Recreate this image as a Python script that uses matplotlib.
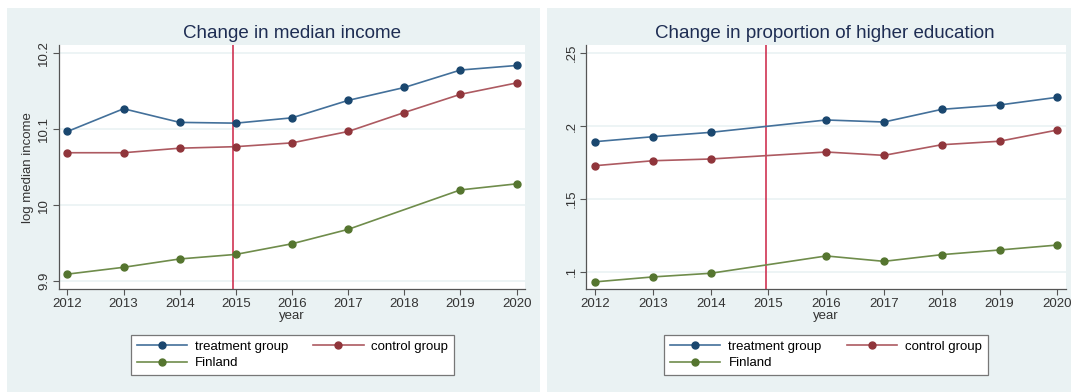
import numpy as np
import matplotlib
matplotlib.use("Agg")
import matplotlib.pyplot as plt
from matplotlib.patches import Rectangle

plt.rcParams['font.family'] = ['Liberation Sans', 'DejaVu Sans']

# data
years = np.arange(2012, 2021)
series_names = ['treatment group', 'control group', 'Finland']

income_treatment = [10.097, 10.127, 10.109, 10.108, 10.115, 10.138, 10.155, 10.178, 10.184]
income_control = [10.069, 10.069, 10.075, 10.077, 10.082, 10.097, 10.122, 10.146, 10.161]
income_finland = [9.909, 9.918, 9.929, 9.935, 9.949, 9.968, np.nan, 10.020, 10.028]

edu_treatment = [0.1893, 0.1927, 0.1957, np.nan, 0.2042, 0.2028, 0.2115, 0.2145, 0.2198]
edu_control = [0.1728, 0.1762, 0.1774, np.nan, 0.1822, 0.1799, 0.1872, 0.1896, 0.1973]
edu_finland = [0.0930, 0.0964, 0.0989, np.nan, 0.1108, 0.1071, 0.1117, 0.1149, 0.1183]

income_ticks = [9.9, 10.0, 10.1, 10.2]
income_ticklabels = ['9.9', '10', '10.1', '10.2']
edu_ticks = [0.10, 0.15, 0.20, 0.25]
edu_ticklabels = ['.1', '.15', '.2', '.25']

event_year = 2014.95

marker_colors = ['#1a476f', '#90353b', '#55752f']
line_colors = ['#43709a', '#ad5a61', '#6f8c4b']
bg = '#eaf2f3'
title_color = '#1e2d53'

fig = plt.figure(figsize=(10.71, 3.92), dpi=100)
fig.patch.set_facecolor('white')

# grey-blue graph regions behind each panel
fig.add_artist(Rectangle((7 / 1071, 0), 533 / 1071, 384 / 392, transform=fig.transFigure,
                         facecolor=bg, edgecolor='none', zorder=-10))
fig.add_artist(Rectangle((547 / 1071, 0), 524 / 1071, 384 / 392, transform=fig.transFigure,
                         facecolor=bg, edgecolor='none', zorder=-10))

ax1 = fig.add_axes([59 / 1071, 1 - 289.3 / 392, 466 / 1071, 244.3 / 392])
ax2 = fig.add_axes([586.4 / 1071, 1 - 289.3 / 392, 479.6 / 1071, 244.3 / 392])


def draw_panel(ax, data, ticks, ticklabels, ylim):
    ax.set_facecolor('white')
    for vals, name, lc, mc in zip(data, series_names, line_colors, marker_colors):
        v = np.array(vals, dtype=float)
        ok = ~np.isnan(v)
        ax.plot(years[ok], v[ok], color=lc, lw=1.2, marker='o', ms=5,
                mec=mc, mfc=mc, label=name, zorder=3)
    ax.axvline(event_year, color='#cc2244', lw=1.1, zorder=2)
    ax.set_xlim(2011.85, 2020.15)
    ax.set_ylim(*ylim)
    ax.set_xticks(years)
    ax.set_xticklabels([str(y) for y in years], fontsize=9.5, color='#333333')
    ax.set_yticks(ticks)
    ax.set_yticklabels(ticklabels, fontsize=9.5, color='#333333', rotation=90, va='center')
    ax.yaxis.grid(True, color=bg, lw=1.2)
    ax.set_axisbelow(True)
    for s in ['top', 'right']:
        ax.spines[s].set_visible(False)
    for s in ['left', 'bottom']:
        ax.spines[s].set_color('#555555')
        ax.spines[s].set_linewidth(0.9)
    ax.tick_params(axis='both', length=4.5, width=0.8, color='#555555', pad=2)
    ax.set_xlabel('year', fontsize=9.5, color='#333333', labelpad=0)


draw_panel(ax1, [income_treatment, income_control, income_finland],
           income_ticks, income_ticklabels, (9.889, 10.211))
draw_panel(ax2, [edu_treatment, edu_control, edu_finland],
           edu_ticks, edu_ticklabels, (0.0879, 0.2557))

ax1.set_ylabel('log median income', fontsize=9.5, color='#333333', labelpad=3)

fig.text(0.2726, 1 - 33 / 392, 'Change in median income', ha='center', va='center',
         fontsize=13.5, color=title_color)
fig.text(0.770, 1 - 33 / 392, 'Change in proportion of higher education', ha='center',
         va='center', fontsize=13.5, color=title_color)

for ax, cx in [(ax1, 292.7 / 1071), (ax2, 826 / 1071)]:
    handles, labels = ax.get_legend_handles_labels()
    # row-wise order: treatment, control / Finland
    order = [0, 2, 1]
    leg = fig.legend([handles[i] for i in order], [labels[i] for i in order],
                     loc='center', bbox_to_anchor=(cx, 1 - 355 / 392),
                     ncol=2, fontsize=9.5, frameon=True, fancybox=False,
                     edgecolor='#777777', framealpha=1, handlelength=3.8,
                     handletextpad=0.6, columnspacing=1.9, borderpad=0.45,
                     labelspacing=0.3, numpoints=1)
    leg.get_frame().set_linewidth(0.9)

fig.savefig('out.png', dpi=100, facecolor='white')
